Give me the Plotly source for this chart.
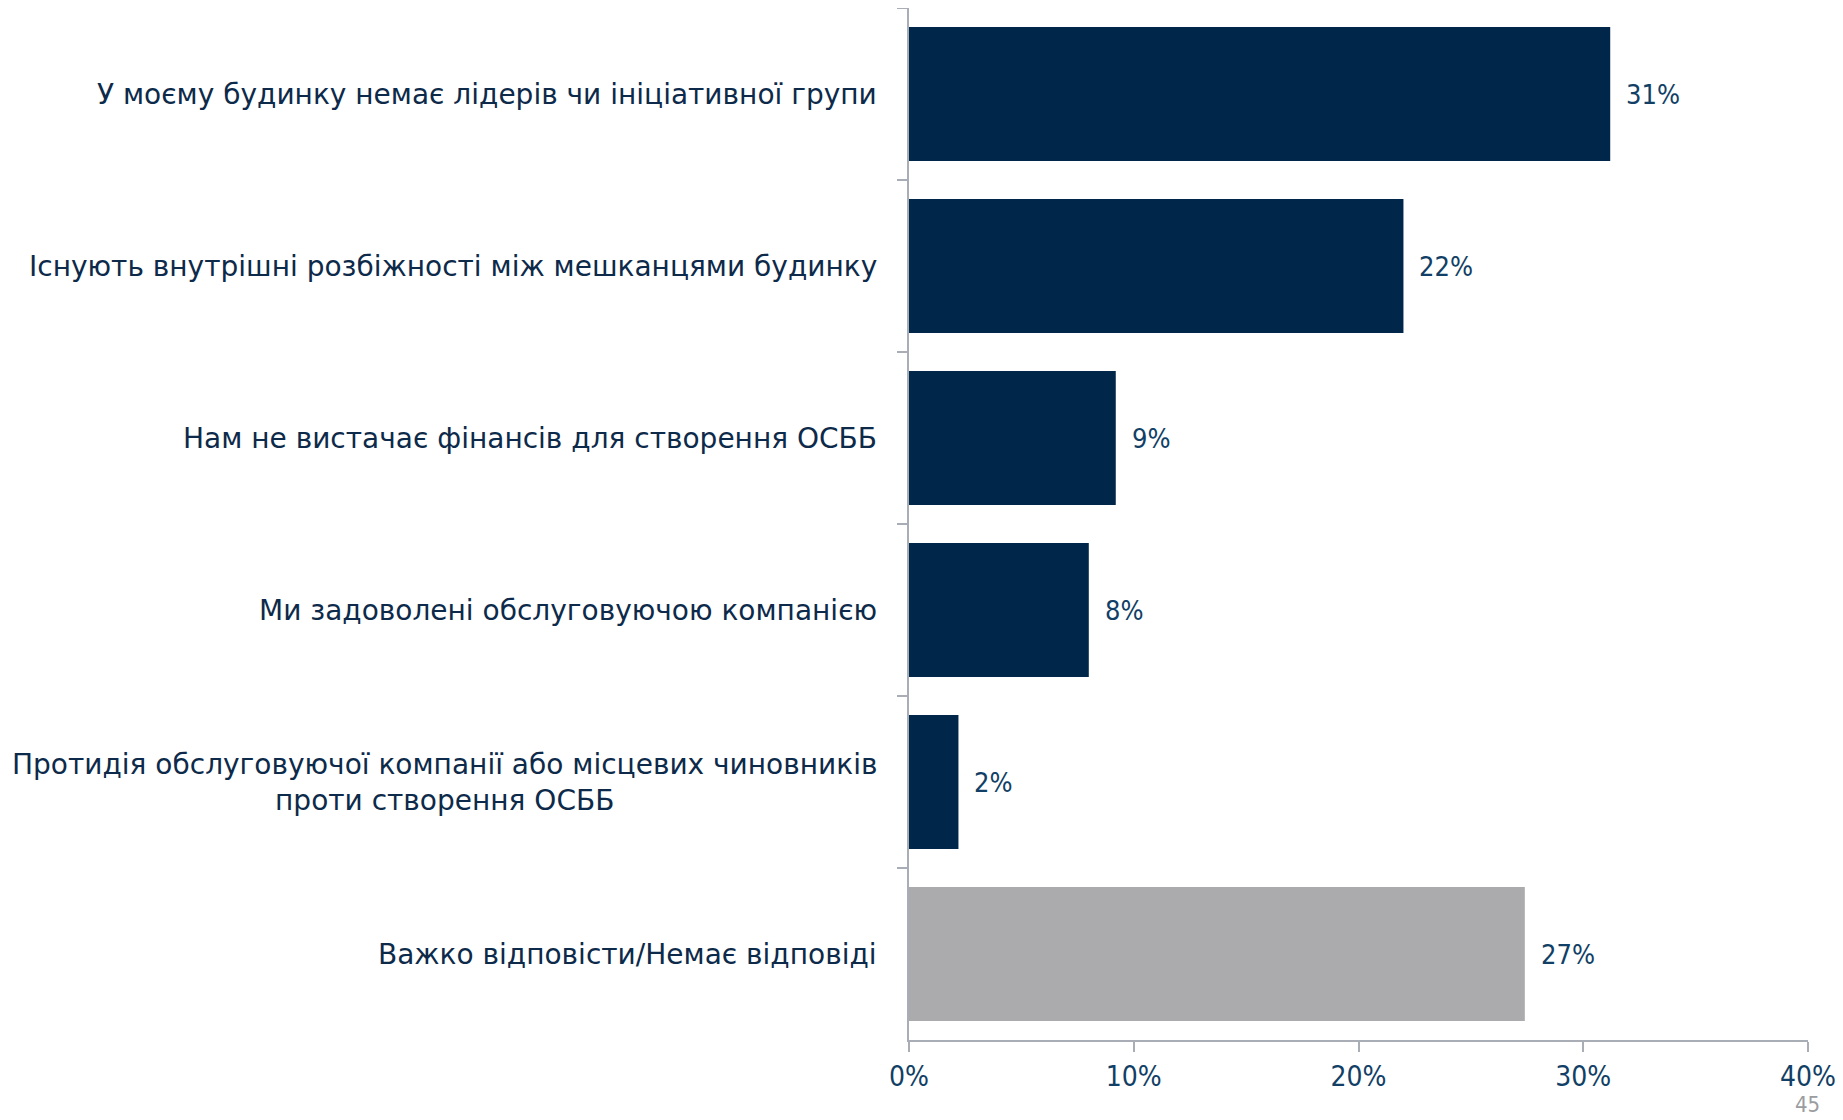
import plotly.graph_objects as go

categories = [
    "У моєму будинку немає лідерів чи ініціативної групи",
    "Існують внутрішні розбіжності між мешканцями будинку",
    "Нам не вистачає фінансів для створення ОСББ",
    "Ми задоволені обслуговуючою компанією",
    "Протидія обслуговуючої компанії або місцевих чиновників<br>проти створення ОСББ",
    "Важко відповісти/Немає відповіді",
]
values = [31.2, 22.0, 9.2, 8.0, 2.2, 27.4]
labels = ["31%", "22%", "9%", "8%", "2%", "27%"]
x_ticks = [0, 10, 20, 30, 40]
x_tick_text = ["0%", "10%", "20%", "30%", "40%"]
page_number = "45"

NAVY = "#00274A"
GREY = "#ABABAD"
TEXT = "#0D2A4A"
NUM = "#123F66"
AXIS = "#A9ADB5"
CAT_FONT = "DejaVu Sans"
NUM_FONT = "Liberation Sans Narrow, DejaVu Sans Condensed, Roboto Condensed, Liberation Sans"

colors = [NAVY] * 5 + [GREY]
keys = [str(i) for i in range(len(categories))]

fig = go.Figure(go.Bar(
    x=values,
    y=keys,
    orientation="h",
    marker_color=colors,
    marker_line_width=0,
    hoverinfo="skip",
))

# category labels, centred lines, right edge near the axis
for k, cat in zip(keys, categories):
    fig.add_annotation(
        x=0, xref="paper", y=k, yref="y",
        text=cat, showarrow=False,
        xanchor="right", align="center", xshift=-30,
        font=dict(family=CAT_FONT, size=28, color=TEXT),
    )

# value labels to the right of each bar
for k, v, lab in zip(keys, values, labels):
    fig.add_annotation(
        x=v, xref="x", y=k, yref="y",
        text=lab, showarrow=False,
        xanchor="left", xshift=14,
        font=dict(family=NUM_FONT, size=27, color=NUM),
    )

# slide number in the bottom-right corner
fig.add_annotation(
    x=1, xref="paper", y=0, yref="paper", xshift=14, yshift=-50,
    text=page_number, showarrow=False, xanchor="right", yanchor="top",
    font=dict(family=NUM_FONT, size=22, color="#9A9CA0"),
)

fig.update_layout(
    width=1835, height=1112,
    paper_bgcolor="white", plot_bgcolor="white",
    margin=dict(l=901, r=35, t=0, b=80),
    bargap=0.22,
    showlegend=False,
)
fig.update_xaxes(
    range=[0, 40], tickvals=x_ticks, ticktext=x_tick_text,
    showgrid=False, zeroline=False,
    showline=True, linecolor=AXIS, linewidth=2,
    ticks="outside", ticklen=10, tickcolor=AXIS, tickwidth=2,
    tickfont=dict(family=NUM_FONT, size=28, color=NUM),
)
fig.update_yaxes(
    autorange="reversed", showticklabels=False,
    showgrid=False, zeroline=False,
    showline=True, linecolor=AXIS, linewidth=2,
    ticks="outside", ticklen=10, tickcolor=AXIS, tickwidth=2,
    tickson="boundaries",
)

fig.write_html("out.html")
